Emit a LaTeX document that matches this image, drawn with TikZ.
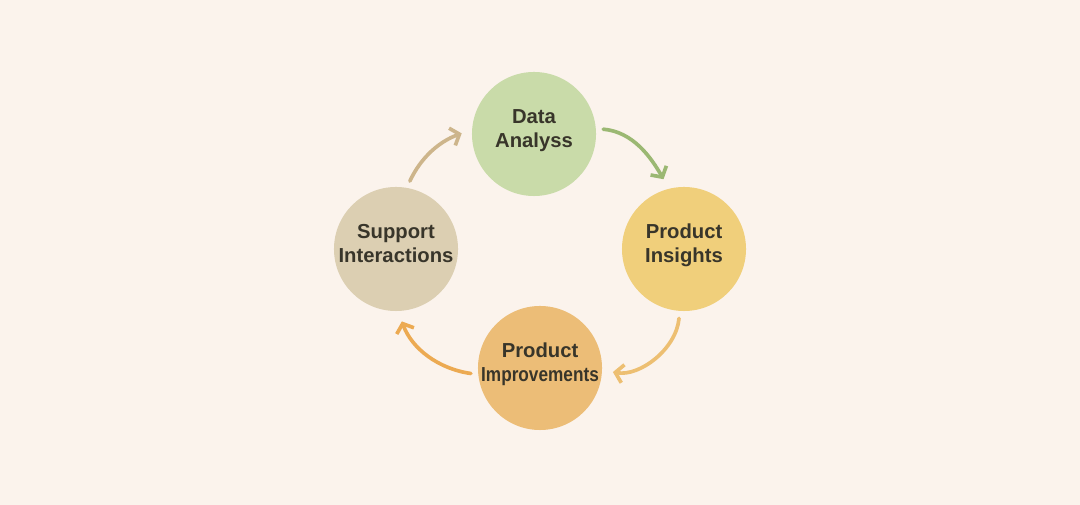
\documentclass[tikz,border=0pt]{standalone}
\usepackage{fontspec}
\setmainfont{Liberation Sans}
\usepackage{xcolor}
\definecolor{cycBack}{HTML}{FBF3EC}
\definecolor{cycText}{HTML}{38352A}
\definecolor{cycData}{HTML}{C9DBA9}
\definecolor{cycInsight}{HTML}{F0CF7B}
\definecolor{cycImprove}{HTML}{ECBD77}
\definecolor{cycSupport}{HTML}{DCCFB2}
\definecolor{cycTan}{HTML}{CDB58B}
\definecolor{cycGreen}{HTML}{9BB873}
\definecolor{cycAmber}{HTML}{EDBF72}
\definecolor{cycOrange}{HTML}{ECAA52}
\usetikzlibrary{arrows.meta}

\begin{document}
\begin{tikzpicture}[
    x=0.025cm, y=0.025cm,
    cycStage/.style={
        circle, minimum size=3.1cm, inner sep=-8pt,
        align=center, text=cycText, text depth=8pt,
        font=\fontsize{14.4}{17.4}\selectfont\bfseries
    },
    cycArrow/.style={
        -{Straight Barb[length=5.5pt,width=13pt]},
        line width=2.6pt, line cap=round,
        shorten <=0.18cm, shorten >=0.27cm
    }
]

    % Background
    \fill[cycBack] (0,0) rectangle (1080,505);

    % Stages
    \node[cycStage, fill=cycData] (data) at (534,371) {Data\\Analyss};
    \node[cycStage, fill=cycInsight] (insights) at (684,256) {Product\\Insights};
    \node[cycStage, fill=cycImprove] (improve) at (540,137) {Product\\\scalebox{0.85}[1]{Improvements}};
    \node[cycStage, fill=cycSupport] (support) at (396,256) {Support\\Interactions};

    % Cycle
    \draw[cycArrow, draw=cycTan] (support.80) to[out=65, in=200] (data.176);
    \draw[cycArrow, draw=cycGreen] (data.5) to[out=-5, in=120] (insights.104);
    \draw[cycArrow, draw=cycAmber] (insights.266) to[out=-95, in=-10] (improve.-2);
    \draw[cycArrow, draw=cycOrange] (improve.186) to[out=172, in=-70] (support.-88);

\end{tikzpicture}
\end{document}
